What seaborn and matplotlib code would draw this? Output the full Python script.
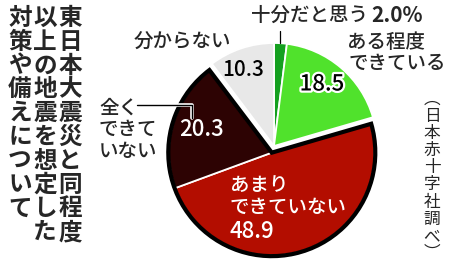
import matplotlib
matplotlib.use("Agg")
import matplotlib.pyplot as plt
import matplotlib.patheffects as pe
from matplotlib.patches import Wedge
import numpy as np
import seaborn as sns

# ---- data ----
categories = ["十分だと思う", "ある程度できている", "あまりできていない", "全くできていない", "分からない"]
values = [2.0, 18.5, 48.9, 20.3, 10.3]
value_labels = ["2.0%", "18.5", "48.9", "20.3", "10.3"]
colors = ["#14a01f", "#50e22c", "#b30d00", "#2d0303", "#e8e8e8"]
title_columns = ["東日本大震災と同程度", "以上の地震を想定した", "対策や備えについて"]
source_text = "︵日本赤十字社調べ︶"

sns.set_theme(style="white")
plt.rcParams['font.family'] = ['Noto Sans CJK JP', 'DejaVu Sans']

W, H = 450, 266
fig = plt.figure(figsize=(4.5, 2.66), dpi=100)
fig.patch.set_facecolor("white")
ax = fig.add_axes([0, 0, 1, 1])


def Y(y):
    return H - y


cx, cy, r = 274, 146, 103
wedges, _ = ax.pie(values, colors=colors, startangle=90, counterclock=False,
                   center=(cx, Y(cy)), radius=r,
                   wedgeprops=dict(edgecolor="white", linewidth=1.3))
ax.set_xlim(0, W)
ax.set_ylim(0, H)
ax.set_aspect("auto")
ax.axis("off")

# explode the group "あまり" + "全く" together
grp = [wedges[2], wedges[3]]
t1 = min(w.theta1 for w in grp)
t2 = max(w.theta2 for w in grp)
mid = np.deg2rad((t1 + t2) / 2)
shift = 7
nc = (cx + shift * np.cos(mid), Y(cy) + shift * np.sin(mid))
for w in grp:
    w.set_center(nc)
ax.add_patch(Wedge(nc, r + 0.5, t1, t2, fill=False, edgecolor="black",
                   linewidth=3.0, zorder=3, joinstyle="miter"))

lab = 14
num = 16
fw = 500
white_stroke = [pe.withStroke(linewidth=3.2, foreground="white")]

# top small slice label
ax.text(368, Y(15), categories[0], fontsize=lab, fontweight=fw, ha="right", va="center")
ax.text(371, Y(15), value_labels[0], fontsize=15, fontweight="bold", ha="left", va="center")
ax.plot([280, 280], [Y(31), Y(43)], color="black", lw=0.9)

# ある程度できている
ax.text(347, Y(43), "ある程度", fontsize=lab, fontweight=fw, ha="left", va="center")
ax.text(349, Y(63), "できている", fontsize=lab, fontweight=fw, ha="left", va="center")
ax.text(322, Y(84), value_labels[1], fontsize=num, fontweight=fw, ha="center", va="center",
        color="black", path_effects=white_stroke)

# 分からない
ax.text(182, Y(42), categories[4], fontsize=lab, fontweight=fw, ha="center", va="center")
ax.text(243, Y(70), value_labels[4], fontsize=num - 1, fontweight=fw, ha="center", va="center",
        color="black")

# 全く できていない
for s, yy in zip(["全く", "できて", "いない"], [108, 129, 151]):
    ax.text(99, Y(yy), s, fontsize=lab, fontweight=fw, ha="left", va="center")
ax.plot([137, 192, 192], [Y(105), Y(105), Y(118)], color="black", lw=1.0,
        path_effects=[pe.withStroke(linewidth=2.6, foreground="white")], zorder=4)
ax.text(202, Y(130), value_labels[3], fontsize=num, fontweight=fw, ha="center", va="center",
        color="white")

# あまりできていない
ax.text(230, Y(185), "あまり", fontsize=lab, fontweight=fw, ha="left", va="center", color="white")
ax.text(230, Y(207), "できていない", fontsize=lab, fontweight=fw, ha="left", va="center", color="white")
ax.text(229, Y(232), value_labels[2], fontsize=num, fontweight=fw, ha="left", va="center", color="white")

# vertical title
for col, xc in zip(title_columns, [70, 45, 20]):
    for i, ch in enumerate(col):
        ax.text(xc, Y(18 + i * 23.8), ch, fontsize=17, fontweight="bold",
                ha="center", va="center")

# vertical source
for i, ch in enumerate(source_text):
    ax.text(432, Y(99 + i * 17.2), ch, fontsize=12, ha="center", va="center")

fig.savefig("out.png", dpi=100, facecolor="white")
